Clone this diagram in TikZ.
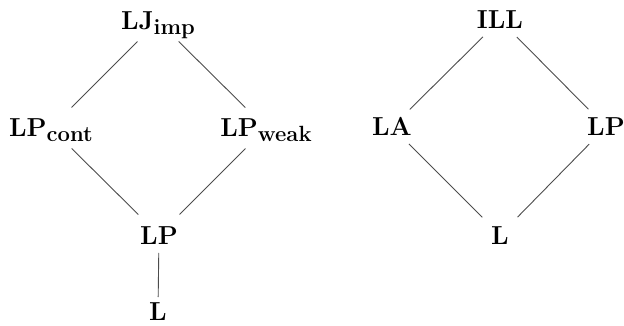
\documentclass[tikz,border=0pt]{standalone}
\usepackage{fix-cm}
\newcommand{\subtxt}[1]{\raisebox{-5pt}{\fontsize{22}{24}\selectfont\bfseries #1}}
\tikzset{
  lbl/.style={inner sep=0pt, text height=18pt, text depth=0pt, font=\fontsize{26}{30}\selectfont\bfseries},
  edge/.style={draw=black!70, line width=0.9pt, shorten <=29pt, shorten >=29pt},
  edgeb/.style={draw=black!70, line width=0.9pt, shorten <=24pt, shorten >=25pt}
}
\begin{document}
\begin{tikzpicture}[x=1pt,y=-1pt]
\useasboundingbox (0,0) rectangle (624,326);
% left lattice
\node[lbl] (ljimp) at (158,21) {LJ\subtxt{imp}};
\node[lbl] (lpcont) at (51,128) {LP\subtxt{cont}};
\node[lbl] (lpweak) at (266,128) {LP\subtxt{weak}};
\node[lbl] (lp) at (159,235) {LP};
\node[lbl] (l) at (158,311) {L};
\draw[edge] (ljimp.center) -- (lpcont.center);
\draw[edge] (ljimp.center) -- (lpweak.center);
\draw[edge] (lpcont.center) -- (lp.center);
\draw[edge] (lpweak.center) -- (lp.center);
\draw[draw=black!70, line width=0.9pt, shorten <=18pt, shorten >=14pt] (lp.center) -- (l.center);
% right lattice
\node[lbl] (ill) at (500,20) {ILL};
\node[lbl] (la) at (392,127) {LA};
\node[lbl] (lpr) at (606,127) {LP};
\node[lbl] (lr) at (500,235) {L};
\draw[edgeb] (ill.center) -- (la.center);
\draw[edgeb] (ill.center) -- (lpr.center);
\draw[edgeb] (la.center) -- (lr.center);
\draw[edgeb] (lpr.center) -- (lr.center);
\end{tikzpicture}
\end{document}
